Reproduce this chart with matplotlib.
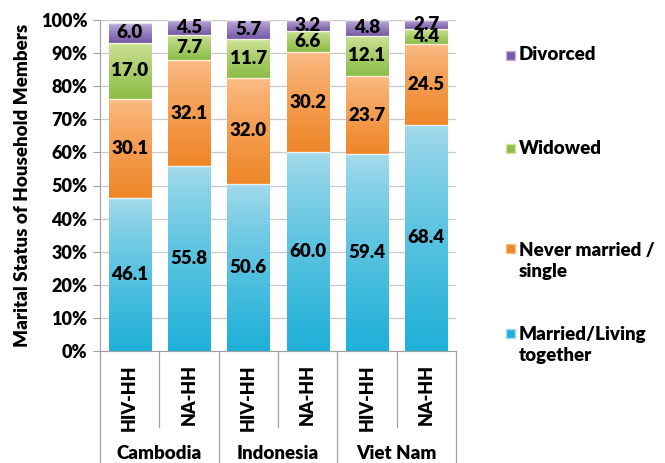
import numpy as np
import matplotlib.pyplot as plt
from matplotlib.colors import to_rgb
from matplotlib.patches import Rectangle
from matplotlib.transforms import blended_transform_factory

plt.rcParams['font.family'] = ['Lato', 'DejaVu Sans']
plt.rcParams['font.weight'] = 'heavy'
W = 'heavy'

# data
countries = ["Cambodia", "Indonesia", "Viet Nam"]
hh_types = ["HIV-HH", "NA-HH"]
married = [46.1, 55.8, 50.6, 60.0, 59.4, 68.4]
never_married = [30.1, 32.1, 32.0, 30.2, 23.7, 24.5]
widowed = [17.0, 7.7, 11.7, 6.6, 12.1, 4.4]
divorced = [6.0, 4.5, 5.7, 3.2, 4.8, 2.7]

series = [married, never_married, widowed, divorced]
names = ["Married/Living\ntogether", "Never married /\nsingle", "Widowed", "Divorced"]
# (top colour, bottom colour) of each gradient
shades = [("#a6dbec", "#1fb0d8"),
          ("#fbbd88", "#ef8628"),
          ("#d3e49c", "#8cbd48"),
          ("#c2b4dc", "#7658a6")]

fig = plt.figure(figsize=(6.65, 4.63), dpi=100)
ax = fig.add_axes([100/665, 112/463, 356/665, 331/463])

x = np.arange(len(married))
width = 0.71
bottom = np.zeros(len(x))


def gradient(top, bot, n=64):
    t = np.linspace(0, 1, n)[:, None, None] ** 0.8
    return (1 - t) * np.array(to_rgb(top)) + t * np.array(to_rgb(bot))


for vals, (top, bot) in zip(series, shades):
    vals = np.array(vals)
    bars = ax.bar(x, vals, width, bottom=bottom, facecolor='none', edgecolor='none')
    img = gradient(top, bot)
    for b, v in zip(bars, vals):
        x0, y0 = b.get_x(), b.get_y()
        ax.imshow(img, extent=(x0, x0 + b.get_width(), y0, y0 + b.get_height()),
                  aspect='auto', origin='upper', zorder=2, interpolation='bilinear')
        # light rim along the top of each segment
        ax.plot([x0, x0 + b.get_width()], [y0 + b.get_height()] * 2,
                color='white', lw=1.0, alpha=0.7, zorder=3)
        ax.text(x0 + b.get_width() / 2, y0 + b.get_height() / 2, f"{v:.1f}",
                ha='center', va='center', fontsize=13.5, fontweight=W, zorder=4)
    bottom += vals

ax.set_xlim(-0.5, len(x) - 0.5)
ax.set_ylim(0, 100)
ax.set_yticks(np.arange(0, 101, 10))
ax.set_yticklabels([f"{v}%" for v in range(0, 101, 10)], fontsize=13, fontweight=W)
ax.yaxis.grid(True, color='#c8c8c8', lw=0.9, zorder=0)
ax.set_axisbelow(True)
ax.tick_params(axis='y', length=5, color='#a0a0a0', pad=4)
ax.set_xticks([])
for s in ['top', 'right']:
    ax.spines[s].set_visible(False)
for s in ['left', 'bottom']:
    ax.spines[s].set_color('#a0a0a0')
ax.set_ylabel("Marital Status of Household Members", fontsize=13.5, fontweight=W,
              labelpad=7)

# category axis: bar labels, separators and country names
trans = blended_transform_factory(ax.transData, ax.transAxes)
for i in x:
    ax.text(i, -0.04, hh_types[i % 2], rotation=90, ha='center', va='top',
            transform=trans, fontsize=13, fontweight=W)
for i in range(len(x) + 1):
    edge = i - 0.5
    low = -0.34 if i % 2 == 0 else -0.23
    ax.plot([edge, edge], [0, low], transform=trans, color='#a0a0a0', lw=0.9,
            clip_on=False)
for j, c in enumerate(countries):
    ax.text(2 * j + 0.5, -0.31, c, ha='center', va='center', transform=trans,
            fontsize=13.5, fontweight=W)

# legend drawn at the right
legend_y = [55, 148, 249, 333]
for (top, bot), name, yy in zip(shades[::-1], names[::-1], legend_y):
    yf = 1 - yy / 463
    fig.patches.append(Rectangle((506/665, yf - 4.5/463), 9/665, 9/463,
                                 transform=fig.transFigure, facecolor=bot,
                                 edgecolor=top, lw=1))
    fig.text(519/665, yf + (7/463 if '\n' in name else 0), name, ha='left',
             va='top' if '\n' in name else 'center',
             fontsize=13.5, fontweight=W, linespacing=1.25,
             transform=fig.transFigure)

fig.savefig("out.png", dpi=100)
